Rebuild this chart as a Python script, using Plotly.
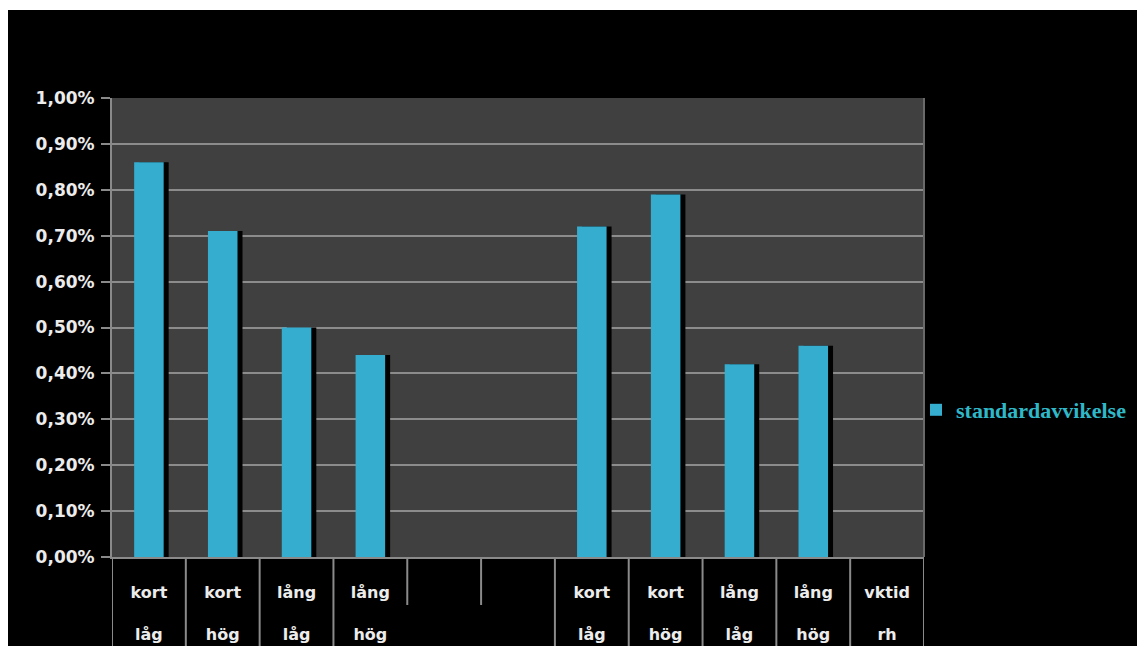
import plotly.graph_objects as go

# ---- data ----
tick_labels = ["kort<br><br>låg", "kort<br><br>hög", "lång<br><br>låg", "lång<br><br>hög", "", "",
               "kort<br><br>låg", "kort<br><br>hög", "lång<br><br>låg", "lång<br><br>hög", "vktid<br><br>rh"]
std_values = [0.0086, 0.0071, 0.0050, 0.0044, None, None,
              0.0072, 0.0079, 0.0042, 0.0046, None]
series_name = "standardavvikelse"
y_ticks = [i / 1000 for i in range(0, 11)]

x_pos = list(range(len(tick_labels)))

W, H = 1137, 646
ML, MR, MT, MB = 112, 213, 98, 89
PW, PH = W - ML - MR, H - MT - MB

def px_x(p):
    return (p - ML) / PW

def px_y(p):
    return (H - MB - p) / PH

fig = go.Figure()

bar_w = 0.4
shift = 5 / (PW / len(tick_labels))

# shadow
fig.add_trace(go.Bar(
    x=x_pos, y=std_values, width=bar_w, offset=-bar_w / 2 + shift,
    marker=dict(color="#020202", line=dict(width=0)),
    showlegend=False, hoverinfo="skip",
))
# main bars
fig.add_trace(go.Bar(
    x=x_pos, y=std_values, width=bar_w, offset=-bar_w / 2,
    name=series_name,
    marker=dict(color="#34adcf", line=dict(width=0)),
))

shapes = [
    # black chart background over white page border
    dict(type="rect", xref="paper", yref="paper", layer="below",
         x0=px_x(8), x1=px_x(W + 20), y0=px_y(H + 20), y1=px_y(10),
         fillcolor="black", line=dict(width=0)),
    # plot-area fill
    dict(type="rect", xref="paper", yref="paper", layer="below",
         x0=0, x1=1, y0=0, y1=1,
         fillcolor="#404040", line=dict(width=0)),
]
# category separators below the axis
n = len(tick_labels)
for i in range(-1, n):
    b = i + 0.5
    right_blank = (i + 1 < n) and tick_labels[i + 1] == ""
    y_end = px_y(605) if right_blank else px_y(H + 5)
    shapes.append(dict(type="line", xref="x", yref="paper",
                       x0=b, x1=b, y0=0, y1=y_end,
                       line=dict(color="#8a8a8a", width=2)))
# right border of plot area
shapes.append(dict(type="line", xref="paper", yref="paper", x0=1, x1=1, y0=0, y1=1,
                   line=dict(color="#6a6a6a", width=2)))

fig.update_layout(
    width=W, height=H,
    margin=dict(l=ML, r=MR, t=MT, b=MB, pad=0, autoexpand=False),
    paper_bgcolor="white",
    plot_bgcolor="rgba(0,0,0,0)",
    barmode="overlay",
    separators=", ",
    shapes=shapes,
    showlegend=True,
    legend=dict(
        x=px_x(916), y=px_y(410), xanchor="left", yanchor="middle",
        bgcolor="rgba(0,0,0,0)", itemwidth=30,
        font=dict(family="Liberation Serif", size=22, color="#2fb8c8", weight=700),
    ),
    xaxis=dict(
        range=[-0.5, n - 0.5],
        tickvals=x_pos, ticktext=tick_labels,
        showgrid=False, zeroline=False, automargin=False,
        ticks="", ticklabelstandoff=20,
        showline=True, linecolor="#8a8a8a", linewidth=2,
        tickfont=dict(family="DejaVu Sans", size=16, color="#ececec", weight="bold"),
    ),
    yaxis=dict(
        range=[0, 0.01], automargin=False,
        tickvals=y_ticks, tickformat=".2%",
        showgrid=True, gridcolor="#8c8c8c", gridwidth=1.5,
        zeroline=False,
        ticks="outside", ticklen=9, tickcolor="#8a8a8a", tickwidth=2,
        ticklabelstandoff=3,
        showline=True, linecolor="#8a8a8a", linewidth=2,
        tickfont=dict(family="DejaVu Sans", size=17, color="#ececec", weight="bold"),
    ),
)

fig.write_html("out.html")
